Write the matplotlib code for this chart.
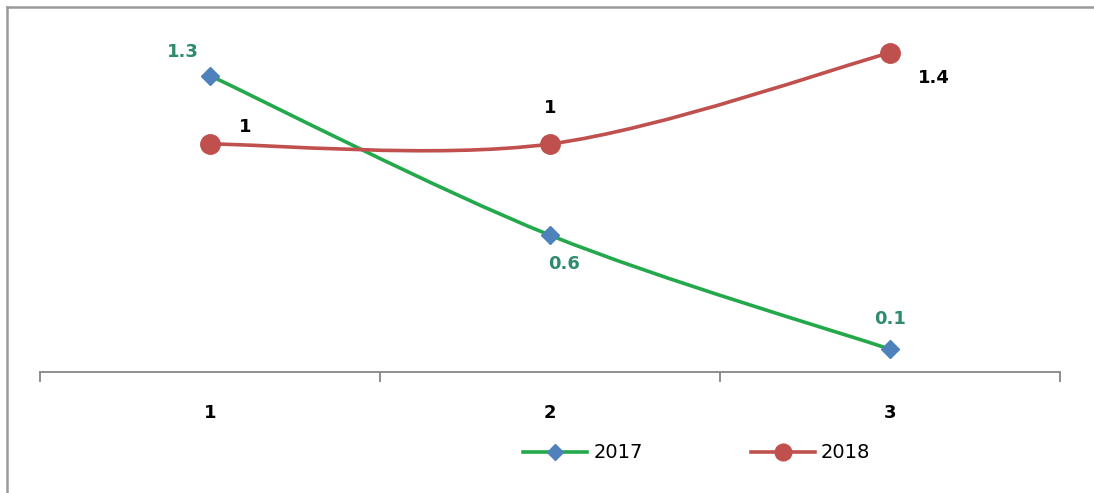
import numpy as np
import matplotlib.pyplot as plt
from matplotlib.path import Path
from matplotlib.patches import PathPatch
from matplotlib.lines import Line2D

categories = [1, 2, 3]
vals_2017 = [1.3, 0.6, 0.1]
vals_2018 = [1.0, 1.0, 1.4]
series_names = ['2017', '2018']


def smooth_path(xs, ys):
    # Excel-style smoothed line: cubic Bezier with Catmull-Rom tangents
    pts = np.column_stack([xs, ys]).astype(float)
    n = len(pts)
    verts = [pts[0]]
    codes = [Path.MOVETO]
    for i in range(n - 1):
        p0 = pts[i - 1] if i > 0 else pts[i]
        p1 = pts[i]
        p2 = pts[i + 1]
        p3 = pts[i + 2] if i + 2 < n else pts[i + 1]
        c1 = p1 + (p2 - p0) / 6.0
        c2 = p2 - (p3 - p1) / 6.0
        verts += [c1, c2, p2]
        codes += [Path.CURVE4] * 3
    return Path(verts, codes)


green = '#23a94b'
blue = '#4f81bd'
red = '#c0504d'
label_green = '#2e8b6e'

fig = plt.figure(figsize=(10.94, 4.93), dpi=100)
ax = fig.add_axes([40 / 1094, 121 / 493, 1020 / 1094, 364.8 / 493])
ax.set_xlim(0.5, 3.5)
ax.set_ylim(0, 1.6)

ax.add_patch(PathPatch(smooth_path(categories, vals_2017), fill=False,
                       edgecolor=green, lw=2.6, zorder=2))
ax.add_patch(PathPatch(smooth_path(categories, vals_2018), fill=False,
                       edgecolor=red, lw=2.6, zorder=2))
ax.plot(categories, vals_2017, ls='none', marker='D', ms=9, color=blue,
        mec=blue, zorder=3)
ax.plot(categories, vals_2018, ls='none', marker='o', ms=14, color=red,
        mec=red, zorder=3)

# data labels
offs_2017 = [(-27, 24), (14, -29), (0, 30)]
offs_2018 = [(35, 17), (0, 36), (44, -25)]
for x, y, o in zip(categories, vals_2017, offs_2017):
    ax.annotate(f'{y:g}', (x, y), xytext=o, textcoords='offset pixels',
                ha='center', va='center', fontsize=13, fontweight='bold',
                color=label_green)
for x, y, o in zip(categories, vals_2018, offs_2018):
    ax.annotate(f'{y:g}', (x, y), xytext=o, textcoords='offset pixels',
                ha='center', va='center', fontsize=13, fontweight='bold',
                color='black')

# category axis
for s in ['top', 'right', 'left']:
    ax.spines[s].set_visible(False)
ax.spines['bottom'].set_color('#868686')
ax.spines['bottom'].set_linewidth(1.3)
ax.set_yticks([])
ax.set_xticks([0.5, 1.5, 2.5, 3.5])
ax.set_xticklabels([])
ax.set_xticks(categories, minor=True)
ax.set_xticklabels([str(c) for c in categories], minor=True,
                   fontsize=13, fontweight='bold')
ax.tick_params(axis='x', which='major', length=7, color='#868686', width=1.3)
ax.tick_params(axis='x', which='minor', length=0, pad=23)

# legend
handles = [Line2D([], [], color=green, lw=2.6, marker='D', ms=8,
                  mfc=blue, mec=blue),
           Line2D([], [], color=red, lw=2.6, marker='o', ms=12,
                  mfc=red, mec=red)]
fig.legend(handles, series_names, loc='center', bbox_to_anchor=(0.6368, 1 - 453 / 493),
           ncol=2, frameon=False, fontsize=14, handlelength=3.3,
           handletextpad=0.3, columnspacing=5.57)

# chart border (left and top edges visible)
fig.add_artist(Line2D([7 / 1094, 7 / 1094], [0, 1 - 7 / 493],
                      transform=fig.transFigure, color='#9a9a9a', lw=1.8))
fig.add_artist(Line2D([7 / 1094, 1], [1 - 7 / 493, 1 - 7 / 493],
                      transform=fig.transFigure, color='#9a9a9a', lw=1.8))

fig.savefig('out.png', dpi=100)
